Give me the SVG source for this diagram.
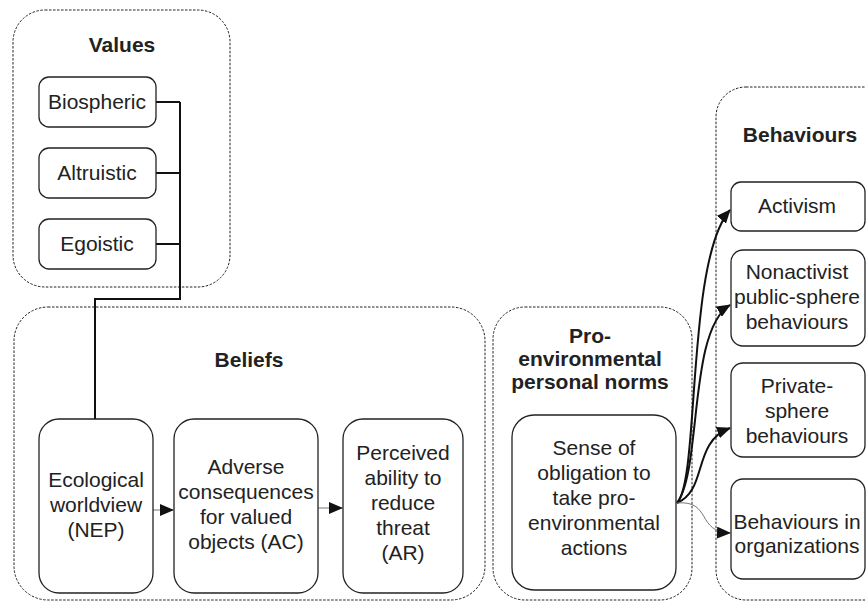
<svg xmlns="http://www.w3.org/2000/svg" width="866" height="602" viewBox="0 0 866 602">
  <style>
    .group { fill: none; stroke: #222; stroke-width: 1; stroke-dasharray: 2.5 1.5; }
    .box { fill: #fff; stroke: #222; stroke-width: 1.3; }
    .title { font-family: "Liberation Sans", Arial, sans-serif; font-size: 21px; font-weight: bold; fill: #222; text-anchor: middle; }
    .lbl { font-family: "Liberation Sans", Arial, sans-serif; font-size: 21px; fill: #222; text-anchor: middle; }
    .link { fill: none; stroke: #111; stroke-width: 2; }
    .thin { fill: none; stroke: #777; stroke-width: 1; }
  </style>
  <defs>
    <marker id="arrow" viewBox="0 0 14 12" refX="13" refY="6" markerWidth="14" markerHeight="12" markerUnits="userSpaceOnUse" orient="auto">
      <path d="M0,0 L14,6 L0,12 Z" fill="#111"/>
    </marker>
  </defs>
  <rect width="866" height="602" fill="#fff"/>

  <!-- Group frames -->
  <g id="values">
    <rect class="group" x="13" y="10" width="217" height="277" rx="32"/>
    <text class="title" x="122" y="52">Values</text>
  </g>
  <g id="beliefs">
    <rect class="group" x="14" y="307" width="471" height="293" rx="34"/>
    <text class="title" x="249" y="367">Beliefs</text>
  </g>
  <g id="norms">
    <rect class="group" x="493" y="307" width="199" height="293" rx="32"/>
    <text class="title" x="590" y="343">Pro-</text>
    <text class="title" x="590" y="366">environmental</text>
    <text class="title" x="590" y="389">personal norms</text>
  </g>
  <g id="behaviours">
    <rect class="group" x="716" y="87" width="180" height="513" rx="30"/>
    <text class="title" x="800" y="142">Behaviours</text>
  </g>

  <!-- Connectors -->
  <g id="connectors">
    <path class="link" d="M156,102 H180 M156,173 H180 M156,244 H180 M180,102 V299 H95 V419"/>
    <path class="thin" d="M153,510 H173" marker-end="url(#arrow)"/>
    <path class="thin" d="M318,508 H342" marker-end="url(#arrow)"/>
    <path class="link" d="M677,503 C700,480 686,260 730,210" marker-end="url(#arrow)"/>
    <path class="link" d="M677,503 C702,470 688,330 730,305" marker-end="url(#arrow)"/>
    <path class="link" d="M677,503 C708,490 692,442 730,428" marker-end="url(#arrow)"/>
    <path class="thin" d="M677,503 C712,500 696,532 730,533" marker-end="url(#arrow)"/>
  </g>

  <!-- Value nodes -->
  <g id="biospheric">
    <rect class="box" x="39" y="77" width="117" height="50" rx="10"/>
    <text class="lbl" x="97" y="109">Biospheric</text>
  </g>
  <g id="altruistic">
    <rect class="box" x="39" y="148" width="117" height="50" rx="10"/>
    <text class="lbl" x="97" y="180">Altruistic</text>
  </g>
  <g id="egoistic">
    <rect class="box" x="39" y="219" width="117" height="50" rx="10"/>
    <text class="lbl" x="97" y="251">Egoistic</text>
  </g>

  <!-- Belief nodes -->
  <g id="nep">
    <rect class="box" x="39" y="419" width="114" height="174" rx="20"/>
    <text class="lbl" x="96" y="487">Ecological</text>
    <text class="lbl" x="96" y="512">worldview</text>
    <text class="lbl" x="96" y="537">(NEP)</text>
  </g>
  <g id="ac">
    <rect class="box" x="174" y="419" width="144" height="174" rx="20"/>
    <text class="lbl" x="246" y="474">Adverse</text>
    <text class="lbl" x="246" y="499">consequences</text>
    <text class="lbl" x="246" y="524">for valued</text>
    <text class="lbl" x="246" y="549">objects (AC)</text>
  </g>
  <g id="ar">
    <rect class="box" x="343" y="419" width="120" height="174" rx="20"/>
    <text class="lbl" x="403" y="460">Perceived</text>
    <text class="lbl" x="403" y="485">ability to</text>
    <text class="lbl" x="403" y="510">reduce</text>
    <text class="lbl" x="403" y="535">threat</text>
    <text class="lbl" x="403" y="560">(AR)</text>
  </g>

  <!-- Norm node -->
  <g id="obligation">
    <rect class="box" x="512" y="415" width="164" height="175" rx="22"/>
    <text class="lbl" x="594" y="455">Sense of</text>
    <text class="lbl" x="594" y="480">obligation to</text>
    <text class="lbl" x="594" y="505">take pro-</text>
    <text class="lbl" x="594" y="530">environmental</text>
    <text class="lbl" x="594" y="555">actions</text>
  </g>

  <!-- Behaviour nodes -->
  <g id="activism">
    <rect class="box" x="731" y="182" width="134" height="49" rx="10"/>
    <text class="lbl" x="797" y="213">Activism</text>
  </g>
  <g id="nonactivist">
    <rect class="box" x="731" y="250" width="134" height="96" rx="12"/>
    <text class="lbl" x="797" y="279">Nonactivist</text>
    <text class="lbl" x="797" y="304">public-sphere</text>
    <text class="lbl" x="797" y="329">behaviours</text>
  </g>
  <g id="private">
    <rect class="box" x="731" y="363" width="134" height="94" rx="12"/>
    <text class="lbl" x="797" y="393">Private-</text>
    <text class="lbl" x="797" y="418">sphere</text>
    <text class="lbl" x="797" y="443">behaviours</text>
  </g>
  <g id="organizations">
    <rect class="box" x="731" y="479" width="134" height="100" rx="12"/>
    <text class="lbl" x="797" y="529">Behaviours in</text>
    <text class="lbl" x="797" y="553">organizations</text>
  </g>
</svg>
